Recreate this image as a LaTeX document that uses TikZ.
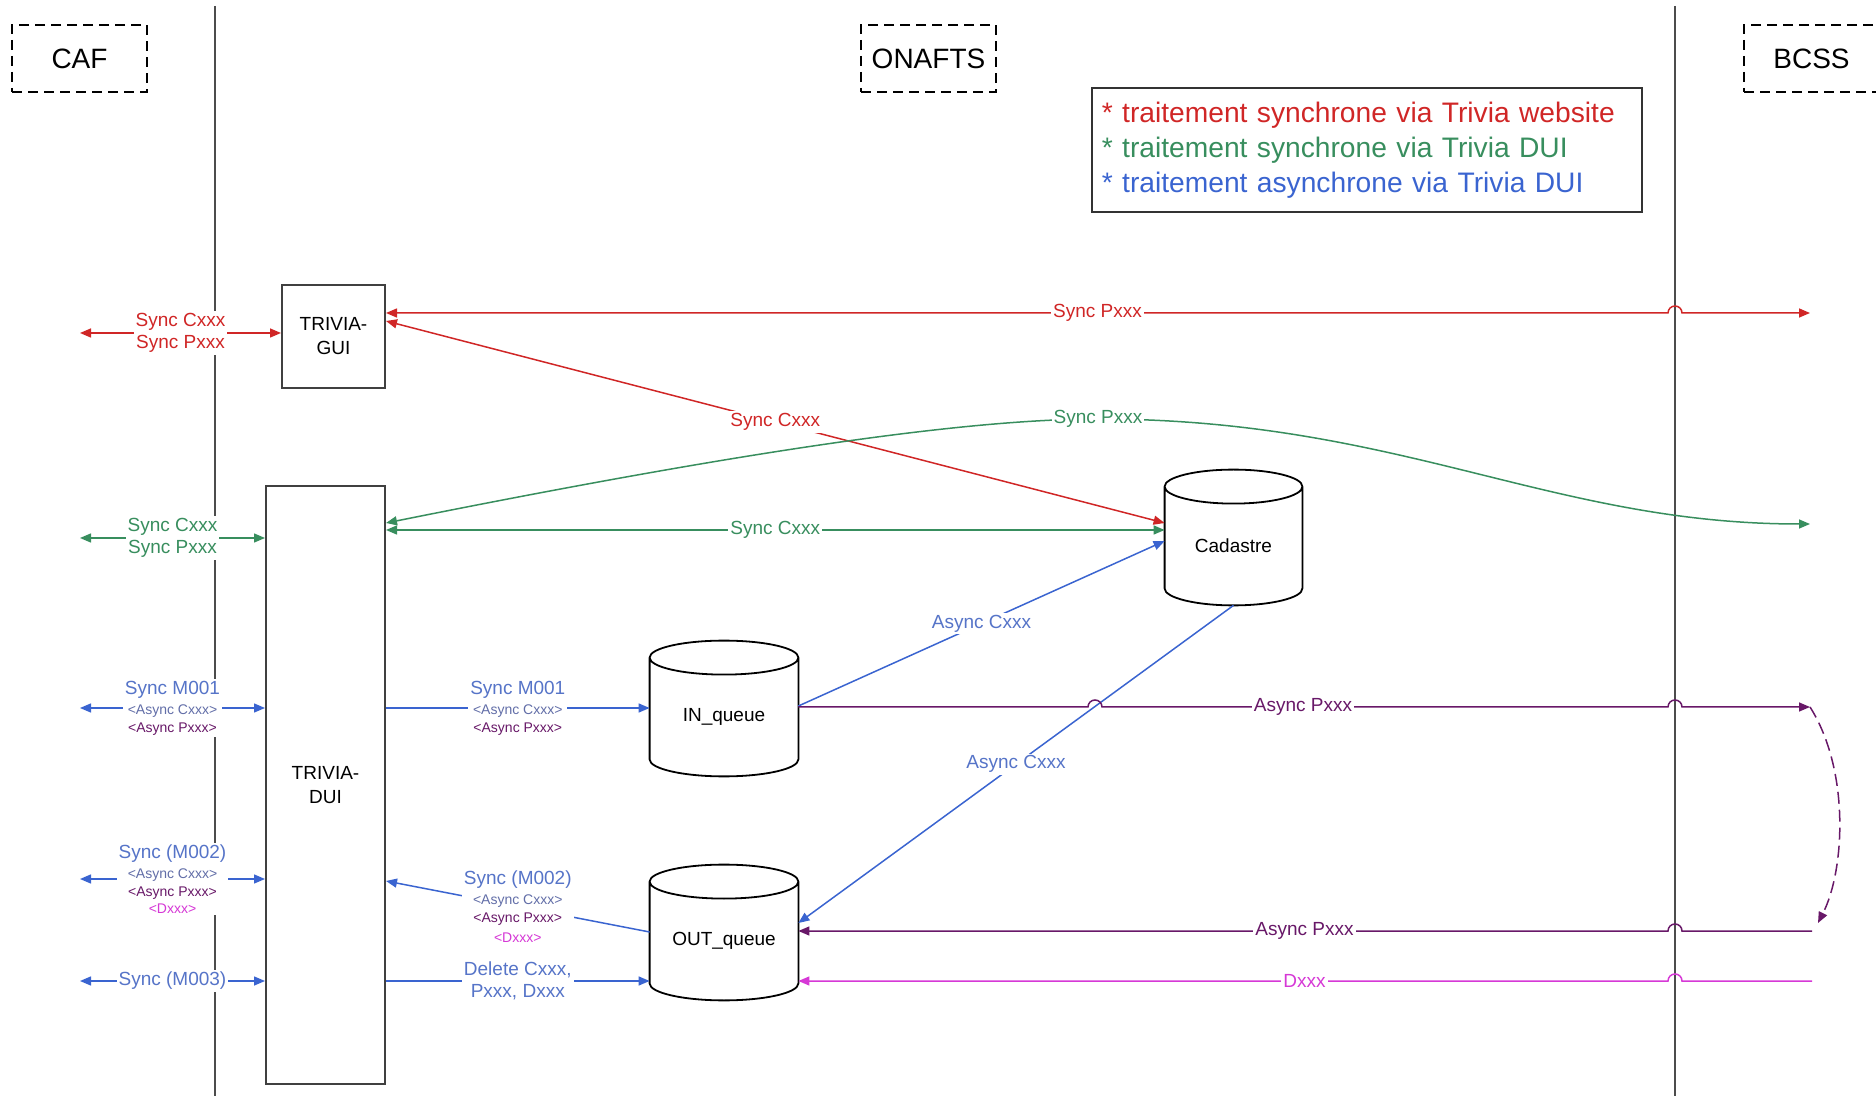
\documentclass[tikz,border=0pt]{standalone}
\usepackage{fontspec}
\setmainfont{Liberation Sans}
\usetikzlibrary{arrows.meta,calc}

\definecolor{synred}{RGB}{208,38,38}
\definecolor{syngreen}{RGB}{56,142,94}
\definecolor{asyblue}{RGB}{58,100,208}
\definecolor{txtblue}{RGB}{86,116,200}
\definecolor{txtgrey}{RGB}{98,110,168}
\definecolor{asypurple}{RGB}{104,24,104}
\definecolor{asymag}{RGB}{214,56,214}

\newcommand{\sml}[2]{{\fontsize{7}{8}\selectfont\textcolor{#1}{#2}}}

\tikzset{
  party/.style={draw, line width=1pt, dash pattern=on 5pt off 3pt,
    minimum width=67.5pt, minimum height=33.5pt, font=\fontsize{14}{17}\selectfont},
  lifeline/.style={draw=black!70, line width=1pt},
  app/.style={draw=black!75, line width=1pt, align=center,
    font=\fontsize{9.5}{12}\selectfont},
  store/.style={align=center, font=\fontsize{9.5}{12}\selectfont},
  flow/.style={line width=0.75pt},
  lbl/.style={fill=white, inner sep=1pt, align=center,
    font=\fontsize{9.5}{11}\selectfont},
}

\begin{document}
\begin{tikzpicture}[x=0.5pt, y=0.5pt, >={Triangle[length=5.5pt,width=4.5pt]}]
    \useasboundingbox (0,0) rectangle (1876,-1096);
    \clip (0,0) rectangle (1876,-1096);

    % parties and their borders
    \node[party] (caf) at (79.5,-58.5) {CAF};
    \node[party] (onafts) at (928.5,-58.5) {ONAFTS};
    \node[party, anchor=west] (bcss) at (1743,-58.5) {BCSS};
    \draw[lifeline] (215,-6) -- (215,-1096);
    \draw[lifeline] (1675,-6) -- (1675,-1096);

    \node[draw=black!80, line width=0.8pt, anchor=north west, text width=265pt,
      inner xsep=5pt, minimum height=62pt, align=left,
      font=\fontsize{14.1}{17.5}\selectfont] (legend) at (1091,-87)
      {\textcolor{synred}{* traitement synchrone via Trivia website}\\
       \textcolor{syngreen}{* traitement synchrone via Trivia DUI}\\
       \textcolor{asyblue}{* traitement asynchrone via Trivia DUI}};

    % applications
    \node[app, minimum width=51.5pt, minimum height=51.5pt] (gui) at (333.5,-336.5) {TRIVIA-\\GUI};
    \node[app, minimum width=59.5pt, minimum height=299pt] (dui) at (325.5,-785) {TRIVIA-\\DUI};

    % databases and queues
    \node[store, minimum width=68.5pt, minimum height=59pt] (cad) at (1233.5,-546) {Cadastre};
    \node[store, minimum width=74pt, minimum height=59pt] (inq) at (724,-717) {IN\_queue};
    \node[store, minimum width=74pt, minimum height=59pt] (outq) at (724,-941) {OUT\_queue};
    \foreach \st in {cad,inq,outq}
      \draw[line width=0.9pt] let \p1=(\st.north west), \p2=(\st.north east) in
        (\st.north) ellipse[x radius={(\x2-\x1)/2}, y radius=8.5pt]
        (\st.north west) -- ([yshift=8.5pt]\st.south west)
        arc[start angle=180, end angle=360, x radius={(\x2-\x1)/2}, y radius=8.5pt]
        -- (\st.north east);

    % free ends at CAF and BCSS
    \coordinate (l1) at (80,-333);
    \coordinate (l2) at (80,-538);
    \coordinate (l3) at (80,-708);
    \coordinate (l4) at (80,-879);
    \coordinate (l5) at (80,-981);
    \coordinate (r1) at (1810,-313);
    \coordinate (r2) at (1810,-524);
    \coordinate (r3) at (1810,-707);
    \coordinate (r3b) at (1818,-923);
    \coordinate (r4) at (1812,-931);
    \coordinate (r5) at (1812,-981);

    % synchronous, website
    \draw[flow, synred, <->] (l1) -- node[lbl, text=synred] {Sync Cxxx\\Sync Pxxx} (gui.west |- l1);
    \draw[flow, synred, <->] (gui.east |- r1) -- node[lbl, pos=0.555, text=synred] {Sync Pxxx} (1668,-313)
      arc[start angle=180, end angle=0, radius=3.5pt] -- (r1);
    \draw[flow, synred, <->] (gui.east |- 0,-321) -- node[lbl, text=synred] {Sync Cxxx} (cad.west |- 0,-523);

    % synchronous, DUI
    \draw[flow, syngreen, <->] (l2) -- node[lbl, text=syngreen] {Sync Cxxx\\Sync Pxxx} (dui.west |- l2);
    \draw[flow, syngreen, <->] (dui.east |- 0,-530) -- node[lbl, text=syngreen] {Sync Cxxx} (cad.west |- 0,-530);
    \draw[flow, syngreen, <->] (dui.east |- 0,-523) .. controls (700,-460) and (950,-419) .. (1098,-419)
      node[lbl, text=syngreen] {Sync Pxxx}
      .. controls (1400,-419) and (1550,-524) .. (r2);

    % asynchronous, DUI
    \draw[flow, asyblue, <->] (l3) -- node[lbl] {\textcolor{txtblue}{Sync M001}\\[-1pt]
      \sml{txtgrey}{<Async Cxxx>}\\[-2pt]\sml{asypurple}{<Async Pxxx>}} (dui.west |- l3);
    \draw[flow, asyblue, ->] (dui.east |- l3) -- node[lbl] {\textcolor{txtblue}{Sync M001}\\[-1pt]
      \sml{txtgrey}{<Async Cxxx>}\\[-2pt]\sml{asypurple}{<Async Pxxx>}} (inq.west |- l3);
    \draw[flow, asyblue, <->] (l4) -- node[lbl] {\textcolor{txtblue}{Sync (M002)}\\[-1pt]
      \sml{txtgrey}{<Async Cxxx>}\\[-2pt]\sml{asypurple}{<Async Pxxx>}\\[-2.5pt]
      \sml{asymag}{<Dxxx>}} (dui.west |- l4);
    \draw[flow, asyblue, ->] (outq.west |- 0,-932) -- node[lbl] {\textcolor{txtblue}{Sync (M002)}\\[-1pt]
      \sml{txtgrey}{<Async Cxxx>}\\[-2pt]\sml{asypurple}{<Async Pxxx>}\\[-1pt]
      \sml{asymag}{<Dxxx>}} (dui.east |- 0,-881);
    \draw[flow, asyblue, <->] (l5) -- node[lbl, text=txtblue] {Sync (M003)} (dui.west |- l5);
    \draw[flow, asyblue, ->] (dui.east |- l5) -- node[lbl, text=txtblue] {Delete Cxxx,\\Pxxx, Dxxx} (outq.west |- l5);
    \draw[flow, asyblue, ->] (inq.east |- 0,-706) -- node[lbl, text=txtblue] {Async Cxxx} (cad.west |- 0,-541);
    \draw[flow, asyblue, ->] (cad.south) -- node[lbl, text=txtblue] {Async Cxxx} (outq.east |- 0,-923);

    \draw[flow, asypurple, ->] (inq.east |- r3) -- (1088,-707) arc[start angle=180, end angle=0, radius=3.5pt]
      -- node[lbl, pos=0.355, text=asypurple] {Async Pxxx} (1668,-707)
      arc[start angle=180, end angle=0, radius=3.5pt] -- (r3);
    \draw[flow, asypurple, ->, dash pattern=on 6pt off 3pt] (r3) .. controls (1850,-770) and (1845,-870) .. (r3b);
    \draw[flow, asypurple, ->] (r4) -- (1682,-931) arc[start angle=0, end angle=180, radius=3.5pt]
      -- node[lbl, pos=0.418, text=asypurple] {Async Pxxx} (outq.east |- r4);
    \draw[flow, asymag, ->] (r5) -- (1682,-981) arc[start angle=0, end angle=180, radius=3.5pt]
      -- node[lbl, pos=0.418, text=asymag] {Dxxx} (outq.east |- r5);
\end{tikzpicture}
\end{document}
